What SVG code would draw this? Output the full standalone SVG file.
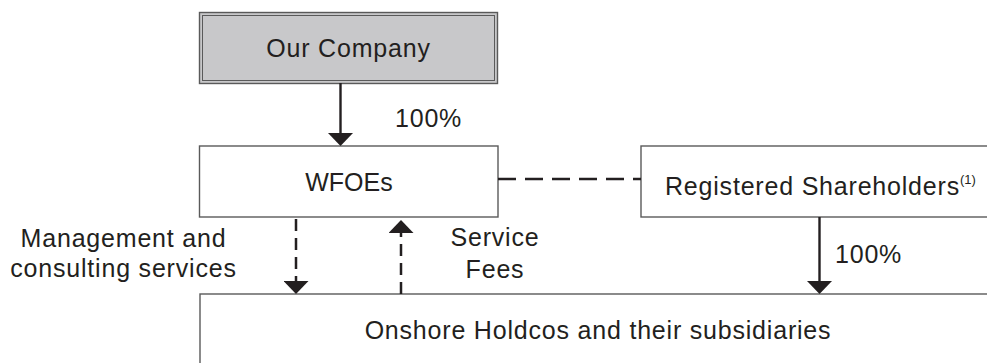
<svg xmlns="http://www.w3.org/2000/svg" width="987" height="363" viewBox="0 0 987 363">
  <style>
    .box { fill: #ffffff; stroke: #5a5a5a; stroke-width: 1.4; }
    .txt { font-family: "Liberation Sans", Arial, sans-serif; font-size: 25px; fill: #231f20; letter-spacing: 0.8px; }
    .mid { text-anchor: middle; }
    .solid { stroke: #231f20; stroke-width: 2.4; fill: none; }
    .dash { stroke: #231f20; stroke-width: 2.5; fill: none; }
  </style>
  <defs>
    <marker id="arrow" viewBox="0 0 13 25" refX="0" refY="12.5" markerWidth="13" markerHeight="25" markerUnits="userSpaceOnUse" orient="auto">
      <path d="M0,0 L13,12.5 L0,25 Z" fill="#231f20"/>
    </marker>
  </defs>
  <rect width="987" height="363" fill="#ffffff"/>

  <g id="our-company">
    <rect x="199.5" y="12.5" width="298" height="71" fill="#c8c8ca" stroke="#5a5a5a" stroke-width="1.4"/>
    <rect x="202.5" y="15.5" width="292" height="65" fill="none" stroke="#5a5a5a" stroke-width="1"/>
    <text class="txt mid" x="348.5" y="57">Our Company</text>
  </g>

  <g id="wfoes">
    <rect class="box" x="199.5" y="146" width="298.5" height="71"/>
    <text class="txt mid" x="349" y="190.5" style="letter-spacing:0">WFOEs</text>
  </g>

  <g id="registered-shareholders">
    <rect class="box" x="641" y="146" width="380" height="71"/>
    <text class="txt" x="665" y="195">Registered Shareholders<tspan font-size="13" dy="-11" style="letter-spacing:0">(1)</tspan></text>
  </g>

  <g id="onshore-holdcos">
    <rect class="box" x="200" y="294" width="820" height="100"/>
    <text class="txt mid" x="598" y="339">Onshore Holdcos and their subsidiaries</text>
  </g>

  <g id="connectors">
    <line class="solid" x1="340.5" y1="83" x2="340.5" y2="133" marker-end="url(#arrow)"/>
    <line class="solid" x1="819.5" y1="217" x2="819.5" y2="281" marker-end="url(#arrow)"/>
    <line class="dash" x1="498" y1="179" x2="641" y2="179" stroke-dasharray="18 9"/>
    <line class="dash" x1="296" y1="219" x2="296" y2="281" stroke-dasharray="12 7" marker-end="url(#arrow)"/>
    <line class="dash" x1="401" y1="294" x2="401" y2="233" stroke-dasharray="12 7" marker-end="url(#arrow)"/>
  </g>

  <g id="labels">
    <text class="txt" x="395" y="127">100%</text>
    <text class="txt" x="835" y="263">100%</text>
    <text class="txt mid" x="123.5" y="246.5">Management and</text>
    <text class="txt mid" x="123.5" y="276.5">consulting services</text>
    <text class="txt mid" x="495" y="246">Service</text>
    <text class="txt mid" x="495" y="278">Fees</text>
  </g>
</svg>
